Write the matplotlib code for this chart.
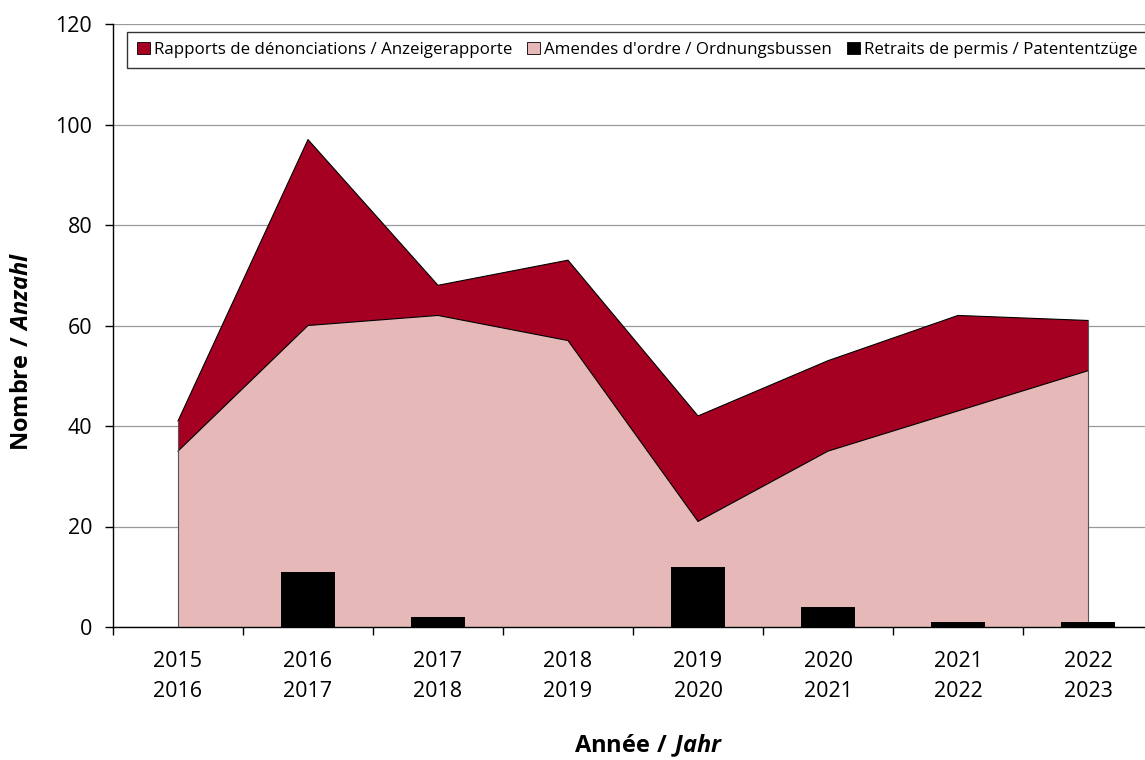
import numpy as np
import matplotlib.pyplot as plt

plt.rcParams['font.family'] = 'Open Sans'
plt.rcParams['mathtext.fontset'] = 'custom'
plt.rcParams['mathtext.bf'] = 'Open Sans:bold'
plt.rcParams['mathtext.bfit'] = 'Open Sans:bold:italic'

years = ['2015\n2016', '2016\n2017', '2017\n2018', '2018\n2019',
         '2019\n2020', '2020\n2021', '2021\n2022', '2022\n2023']
amendes = [35, 60, 62, 57, 21, 35, 43, 51]
rapports = [6, 37, 6, 16, 21, 18, 19, 10]
retraits = [0, 11, 2, 0, 12, 4, 1, 1]

c_rapports = '#A50021'
c_amendes = '#E6B8B7'

fig = plt.figure(figsize=(11.45, 7.6), dpi=100)
ax = fig.add_axes([113 / 1145, 133 / 760, 1040 / 1145, 603 / 760])

x = np.arange(len(years))
total = np.array(amendes) + np.array(rapports)

# stacked areas: fines at the bottom, reports on top
ax.fill_between(x, 0, amendes, facecolor=c_amendes, edgecolor='none', zorder=2)
ax.fill_between(x, amendes, total, facecolor=c_rapports, edgecolor='none', zorder=2)
ax.plot(x, amendes, color='black', lw=0.8, zorder=3)
ax.plot(x, total, color='black', lw=0.8, zorder=3)
ax.plot([x[0], x[0]], [0, total[0]], color='#555555', lw=0.8, zorder=3)
ax.plot([x[-1], x[-1]], [0, total[-1]], color='#555555', lw=0.8, zorder=3)
ax.bar(x, retraits, width=0.41, color='black', zorder=4)

ax.set_xlim(-0.5, 7.5)
ax.set_ylim(0, 120)
ax.set_yticks(range(0, 121, 20))
ax.yaxis.grid(True, color='#999999', lw=0.9, zorder=0)
ax.set_axisbelow(True)

ax.set_xticks(np.arange(-0.5, 8, 1))
ax.set_xticklabels([])
ax.set_xticks(x, minor=True)
ax.set_xticklabels(years, minor=True, fontsize=15.5, linespacing=1.6)
ax.tick_params(axis='x', which='minor', length=0, pad=17)
ax.tick_params(axis='x', which='major', length=6, width=1, direction='out')
ax.tick_params(axis='y', length=6, width=1, direction='out', labelsize=15.5, pad=9)

for s in ['top', 'right']:
    ax.spines[s].set_visible(False)
for s in ['left', 'bottom']:
    ax.spines[s].set_linewidth(1)

ax.set_ylabel(r'$\mathbf{Nombre\ /\ }\mathbfit{Anzahl}$', fontsize=17, va='center')
ax.yaxis.set_label_coords(-91 / 1040, (627 - 351) / 603)
ax.set_xlabel(r'$\mathbf{Année\ /\ }\mathbfit{Jahr}$', fontsize=17, va='center')
ax.xaxis.set_label_coords((649 - 113) / 1040, -(746 - 627) / 603)

handles = [plt.Rectangle((0, 0), 1, 1, facecolor=c_rapports, edgecolor='black', lw=0.6),
           plt.Rectangle((0, 0), 1, 1, facecolor=c_amendes, edgecolor='black', lw=0.6),
           plt.Rectangle((0, 0), 1, 1, facecolor='black', edgecolor='black', lw=0.6)]
labels = ['Rapports de dénonciations / Anzeigerapporte',
          "Amendes d'ordre / Ordnungsbussen",
          'Retraits de permis / Patententzüge']
leg = ax.legend(handles, labels, ncol=3, loc='upper left',
                bbox_to_anchor=(14 / 1040, 1 - 8 / 603), fontsize=12.2,
                frameon=True, fancybox=False, handlelength=0.75, handleheight=0.75,
                handletextpad=0.25, columnspacing=0.9, borderpad=0.58,
                borderaxespad=0)
leg.get_frame().set_edgecolor('black')
leg.get_frame().set_linewidth(1)
leg.set_zorder(10)

fig.savefig('out.png', dpi=100)
